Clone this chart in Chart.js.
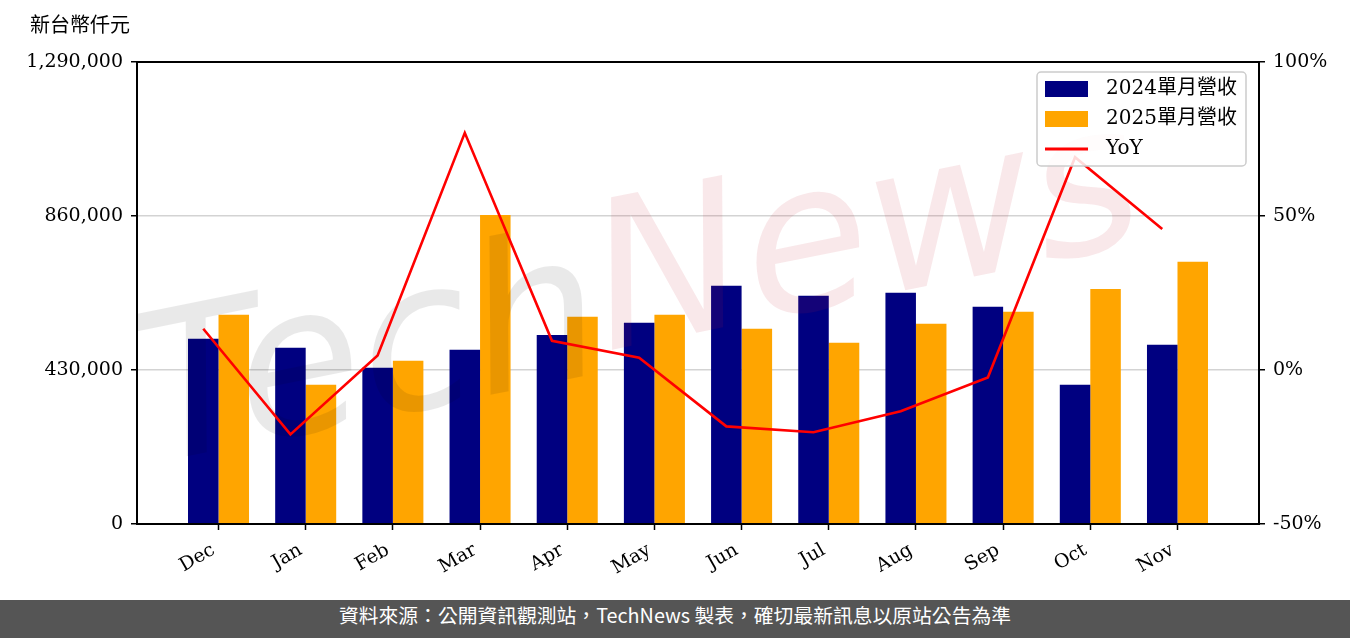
<!DOCTYPE html>
<html lang="zh-TW">
<head>
<meta charset="utf-8">
<script src="https://cdn.jsdelivr.net/npm/chart.js@4"></script>
<style>
  body { margin: 0; background: #fff; width: 1350px; height: 638px; overflow: hidden; }
  #wrap { position: relative; width: 1350px; height: 600px; }
  #footer {
    height: 38px; line-height: 38px; background: #555555; color: #fff;
    text-align: center; font: 19.8px "Noto Sans CJK TC", "Noto Sans", sans-serif;
  }
</style>
</head>
<body>
<div id="wrap"><canvas id="myChart" width="1350" height="600"></canvas></div>
<div id="footer" lang="zh-TW">資料來源：公開資訊觀測站，TechNews 製表，確切最新訊息以原站公告為準</div>
<script>
// datos
const meses = ['Dec', 'Jan', 'Feb', 'Mar', 'Apr', 'May', 'Jun', 'Jul', 'Aug', 'Sep', 'Oct', 'Nov'];
const ventas2024 = [517000, 492000, 436000, 486500, 528000, 562000, 665000, 637000, 645500, 606500, 389000, 500500];
const ventas2025 = [584000, 389000, 456000, 863000, 578500, 584000, 545000, 506000, 559000, 592500, 656500, 732000];
const yoy = [13.4, -20.9, 4.7, 77.0, 9.5, 4.0, -18.3, -20.2, -13.4, -2.4, 69.1, 45.8];
const ticksIzq = [0, 430000, 860000, 1290000];
const ticksDer = [-50, 0, 50, 100];
const nombres = ['2024單月營收', '2025單月營收', 'YoY'];
const unidad = '新台幣仟元';

const fuente = '"DejaVu Serif", "Noto Sans CJK TC", serif';
const desplLinea = -0.175; // la linea va sobre la barra azul

// plugin: marco, titulo, marca de agua y leyenda
const extras = {
  id: 'extras',
  beforeDatasetDraw(chart, args) {
    if (args.index !== 2) return;
    const ctx = chart.ctx;
    const a = chart.chartArea;
    ctx.save();
    ctx.beginPath();
    ctx.rect(a.left, a.top, a.right - a.left, a.bottom - a.top);
    ctx.clip();
    ctx.translate(640, 300);
    ctx.rotate(-0.2);
    ctx.font = 'italic 205px "DejaVu Sans"';
    ctx.textBaseline = 'middle';
    const w1 = ctx.measureText('Tech').width;
    const w2 = ctx.measureText('News').width;
    let x = -(w1 + w2) / 2;
    ctx.fillStyle = 'rgba(0,0,0,0.085)';
    ctx.fillText('Tech', x, 10);
    ctx.fillStyle = 'rgba(200,30,50,0.1)';
    ctx.fillText('News', x + w1, -10);
    ctx.restore();
  },
  afterDraw(chart) {
    const ctx = chart.ctx;
    const a = chart.chartArea;
    ctx.save();
    ctx.strokeStyle = '#000';
    ctx.lineWidth = 2;
    ctx.strokeRect(a.left, a.top, a.right - a.left, a.bottom - a.top);

    ctx.fillStyle = '#000';
    ctx.font = '20px ' + fuente;
    ctx.textBaseline = 'middle';
    ctx.textAlign = 'left';
    ctx.fillText(unidad, 30, 27);

    // leyenda
    const bx = 1037, by = 72, bw = 209, bh = 94;
    ctx.fillStyle = 'rgba(255,255,255,0.85)';
    ctx.strokeStyle = '#cccccc';
    ctx.lineWidth = 1.5;
    ctx.beginPath();
    ctx.roundRect(bx, by, bw, bh, 4);
    ctx.fill();
    ctx.stroke();
    chart.data.datasets.forEach((ds, i) => {
      const cy = 89 + i * 30;
      if (ds.type === 'line') {
        ctx.strokeStyle = ds.borderColor;
        ctx.lineWidth = 3;
        ctx.beginPath();
        ctx.moveTo(1045, cy);
        ctx.lineTo(1088, cy);
        ctx.stroke();
      } else {
        ctx.fillStyle = ds.backgroundColor;
        ctx.fillRect(1045, cy - 8, 43, 16);
      }
      ctx.fillStyle = '#000';
      ctx.font = '20px ' + fuente;
      ctx.fillText(ds.label, 1106, cy);
    });
    ctx.restore();
  }
};

const puntos = (arr, d) => arr.map((v, i) => ({ x: i + d, y: v }));

const chart = new Chart('myChart', {
  data: {
    datasets: [{
      type: 'bar',
      label: nombres[0],
      data: puntos(ventas2024, 0),
      backgroundColor: '#000080',
      categoryPercentage: 0.7,
      barPercentage: 1.0,
      yAxisID: 'y',
      order: 2
    }, {
      type: 'bar',
      label: nombres[1],
      data: puntos(ventas2025, 0),
      backgroundColor: '#FFA500',
      categoryPercentage: 0.7,
      barPercentage: 1.0,
      yAxisID: 'y',
      order: 2
    }, {
      type: 'line',
      label: nombres[2],
      data: puntos(yoy, desplLinea),
      borderColor: '#FF0000',
      backgroundColor: '#FF0000',
      borderWidth: 2.6,
      pointRadius: 0,
      tension: 0,
      yAxisID: 'y1',
      order: 1
    }]
  },
  options: {
    responsive: false,
    animation: false,
    devicePixelRatio: 1,
    layout: { padding: { top: 62, left: 0, right: 0, bottom: 0 } },
    plugins: { legend: { display: false }, tooltip: { enabled: false } },
    scales: {
      x: {
        type: 'linear',
        offset: false,
        min: -0.935,
        max: 11.935,
        afterBuildTicks: s => { s.ticks = meses.map((m, i) => ({ value: i })); },
        afterFit: s => { s.height = 76; },
        ticks: {
          callback: v => meses[v],
          autoSkip: false,
          maxRotation: 30,
          minRotation: 30,
          padding: 9,
          labelOffset: -5,
          color: '#000',
          font: { family: fuente, size: 19 }
        },
        grid: { offset: false, drawOnChartArea: false, tickLength: 6, tickColor: '#000', tickWidth: 1.5 },
        border: { display: false }
      },
      y: {
        position: 'left',
        min: 0,
        max: 1290000,
        afterBuildTicks: s => { s.ticks = ticksIzq.map(v => ({ value: v })); },
        afterFit: s => { s.width = 137; },
        ticks: {
          callback: v => v.toLocaleString('en-US'),
          padding: 8,
          color: '#000',
          font: { family: fuente, size: 19 }
        },
        grid: { color: '#d3d3d3', lineWidth: 1.5, tickLength: 6, tickColor: '#000' },
        border: { display: false }
      },
      y1: {
        position: 'right',
        min: -50,
        max: 100,
        afterBuildTicks: s => { s.ticks = ticksDer.map(v => ({ value: v })); },
        afterFit: s => { s.width = 91; },
        ticks: {
          callback: v => v + '%',
          padding: 8,
          color: '#000',
          font: { family: fuente, size: 19 }
        },
        grid: { drawOnChartArea: false, tickLength: 6, tickColor: '#000', lineWidth: 1.5 },
        border: { display: false }
      }
    }
  },
  plugins: [extras]
});
</script>
</body>
</html>
